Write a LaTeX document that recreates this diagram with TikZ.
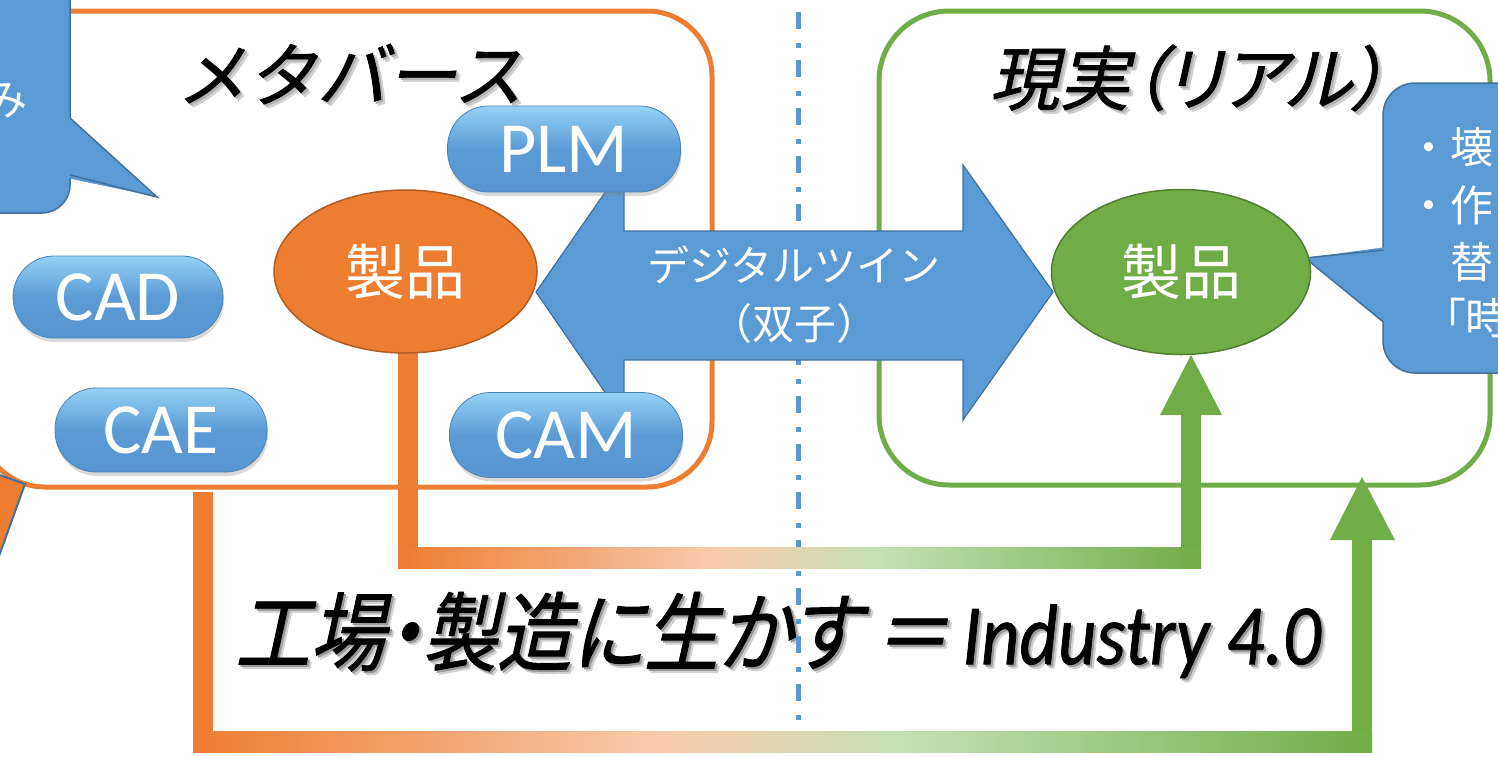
\documentclass[tikz,border=0pt]{standalone}
\usepackage{fontspec}
\setmainfont{Carlito}
\newfontfamily\jp{Noto Sans CJK JP}
\newfontfamily\jpp{Noto Sans CJK JP}[RawFeature=+palt]
\newfontfamily\jpit{Noto Sans CJK JP}[FakeSlant=0.22,FakeBold=1]
\newfontfamily\jpitp{Noto Sans CJK JP}[FakeSlant=0.22,FakeBold=1,RawFeature=+palt]
\newfontfamily\jpitc{Noto Sans CJK JP}[FakeSlant=0.22,FakeStretch=0.87,FakeBold=1,RawFeature=+palt]
\newfontfamily\latc{Carlito}[FakeStretch=0.87,FakeBold=0.8]
\usetikzlibrary{shapes.geometric,shadows}
\definecolor{orng}{HTML}{ED7D31}
\definecolor{orngdark}{HTML}{B35D22}
\definecolor{grn}{HTML}{70AD47}
\definecolor{grndark}{HTML}{507E32}
\definecolor{blu}{HTML}{5B9BD5}
\definecolor{bluline}{HTML}{41719C}
\definecolor{peach}{HTML}{F8CBAD}
\definecolor{lgrn}{HTML}{C5E0B4}
\definecolor{pilltop}{HTML}{95D2F6}
\definecolor{pillbot}{HTML}{5795D0}
\pgfdeclarehorizontalshading{barshade}{100bp}{color(0bp)=(orng); color(25bp)=(orng); color(45bp)=(peach); color(55bp)=(lgrn); color(75bp)=(grn); color(100bp)=(grn)}
\newcommand{\mainline}{\jpitc\fontsize{86}{86}\selectfont 工場・製造に生かす\,＝\,{\latc\itshape Industry 4.0}}
\tikzset{
  pill/.style={rectangle, rounded corners=41pt, inner sep=0pt, text=white,
    font=\fontsize{72}{72}\selectfont, top color=pilltop, bottom color=pillbot, middle color=blu,
    draw=blu!85!black, line width=0.8pt,
    drop shadow={opacity=0.3, shadow xshift=1pt, shadow yshift=-4pt}},
  prod/.style={ellipse, inner sep=0pt, text=white, font=\jp\fontsize{60}{60}\selectfont, line width=1.5pt},
  frame/.style={line width=5pt, rounded corners=#1},
  ttl/.style={inner sep=0pt, text=black, font=\jpit\fontsize{70}{70}\selectfont},
  ttlsh/.style={inner sep=0pt, text=black!30, font=\jpit\fontsize{70}{70}\selectfont},
  calltext/.style={inner sep=0pt, anchor=west, text=white, font=\jp\fontsize{43}{43}\selectfont},
  bluebox/.style={fill=blu, draw=bluline, line width=1.5pt},
}
\begin{document}
\begin{tikzpicture}[x=1pt,y=-1pt]
\useasboundingbox (0,0) rectangle (1498,756);
\clip (0,0) rectangle (1498,756);
% frames
\draw[frame=65pt, draw=orng] (-20,11) rectangle (712,487);
\draw[frame=70pt, draw=grn] (879,11) rectangle (1490,485);
% left callout
\path[bluebox, rounded corners=28pt] (-80,-60) rectangle (70,213);
\fill[blu] (67,115) -- (157,197) -- (67,178) -- cycle;
\draw[bluline, line width=1.5pt, line join=miter] (70,118) -- (157,197) -- (70,175);
\node[calltext, anchor=center] (lc) at (6,101) {み};
% right callout
\path[bluebox, rounded corners=32pt] (1383,83) rectangle (1600,373);
\fill[blu] (1386,247) -- (1305,258) -- (1386,325) -- cycle;
\draw[bluline, line width=1.5pt] (1383.5,250) -- (1305,258) -- (1383.5,322);
\node[calltext] (r1) at (1407,147) {・壊};
\node[calltext] (r2) at (1407,205) {・作};
\node[calltext] (r3) at (1450,262) {替};
\node[calltext, font=\jpp\fontsize{43}{43}\selectfont] (r4) at (1444,318) {「時};
% bottom-left fragment
\filldraw[fill=orng, draw=bluline, line width=2pt] (-6,473) -- (25,484) -- (-6,570) -- cycle;
% titles
\node[ttlsh, text=black!18] at (354,78) {メタバース};
\node[ttlsh] at (352,76) {メタバース};
\node[ttl] (meta) at (350,74) {メタバース};
\node[ttlsh, text=black!18, font=\jpitp\fontsize{70}{70}\selectfont] at (1192,82) {現実（リアル）};
\node[ttlsh, font=\jpitp\fontsize{70}{70}\selectfont] at (1190,80) {現実（リアル）};
\node[ttl, font=\jpitp\fontsize{70}{70}\selectfont] (real) at (1188,78) {現実（リアル）};
% main line
\node[inner sep=0pt, text=black!18] at (782,639) {\mainline};
\node[inner sep=0pt, text=black!40] at (780,637) {\mainline};
\node[inner sep=0pt] (ind) at (778,635) {\mainline};
% dashed divider
\draw[blu, line width=5pt, dash pattern=on 17pt off 14pt on 5pt off 12pt] (798,12) -- (798,760);
% gradient connectors
\coordinate (o1) at (408,353);
\coordinate (g1) at (1191,355);
\fill[orng] (398,353) rectangle (418,568);
\fill[grn] (1181,413) rectangle (1201,568);
\shade[shading=barshade] (398,547) rectangle (1201,568);
\fill[grn] (1160,415) -- (g1) -- (1222,415) -- cycle;
\coordinate (o2) at (203,492);
\coordinate (g2) at (1362,477);
\fill[orng] (193,492) rectangle (213,752);
\fill[grn] (1352,538) rectangle (1372,752);
\shade[shading=barshade] (193,731) rectangle (1372,752);
\fill[grn] (1330,540) -- (g2) -- (1395,540) -- cycle;
% twin arrow
\coordinate (tl) at (536,292);
\coordinate (tr) at (1053,292);
\filldraw[fill=blu, draw=bluline, line width=1.2pt, line join=miter]
  (tl) -- (624,165) -- (624,231) -- (963,231) -- (963,165) -- (tr) -- (963,420) -- (963,360) -- (624,360) -- (624,420) -- cycle;
\node[align=center, text=white, inner sep=0pt, font=\jp\fontsize{42}{58}\selectfont] (dt) at (794,295) {デジタルツイン\\（双子）};
% products
\node[prod, fill=orng, draw=orngdark, minimum width=263pt, minimum height=163pt] (po) at (405.5,271.5) {製品};
\node[prod, fill=grn, draw=grndark, minimum width=259pt, minimum height=165pt] (pg) at (1181,272) {製品};
% pills
\node[pill, minimum width=233pt, minimum height=86pt] (plm) at (564,149) {PLM};
\node[pill, minimum width=210pt, minimum height=82pt] (cad) at (118,297) {CAD};
\node[pill, minimum width=212pt, minimum height=84pt] (cae) at (161,430) {CAE};
\node[pill, minimum width=233pt, minimum height=85pt] (cam) at (566,435) {CAM};
\end{tikzpicture}
\end{document}
